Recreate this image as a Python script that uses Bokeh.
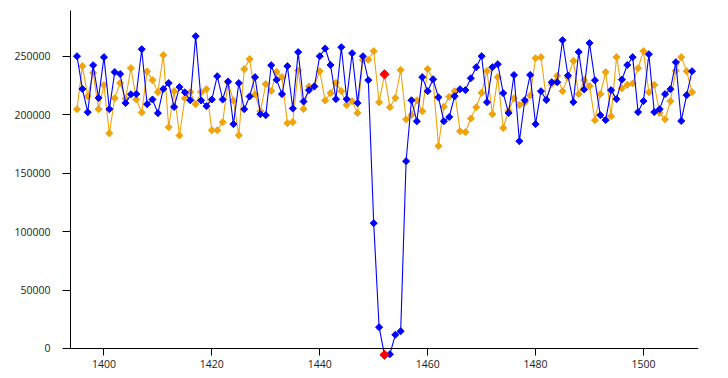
import math
from bokeh.plotting import figure
from bokeh.models import Range1d, FixedTicker, NumeralTickFormatter, Label, ColumnDataSource
from bokeh.embed import file_html
from bokeh.resources import INLINE

# ---- data ----
x_values = list(range(1395, 1510))
blue_values = [
    250000, 222000, 202100, 242300, 214300, 249200, 204700, 236400, 234800, 209900,
    217400, 217600, 256000, 209000, 213000, 201300, 222000, 227000, 206600, 223600,
    219100, 212300, 267100, 212200, 207300, 213000, 232900, 213000, 228400, 191900,
    227000, 204700, 215600, 232100, 200400, 199600, 242300, 229800, 217600, 241500,
    205300, 253500, 211300, 221000, 224100, 250000, 256600, 242500, 213300, 257700,
    213300, 252600, 209900, 250000, 229500, 107200, 18200, -5400, -4900, 11700,
    14800, 160200, 212300, 194400, 232100, 220100, 230300, 214800, 194400, 198000,
    215800, 221800, 221000, 231200, 240600, 250000, 210700, 240600, 243200, 218400,
    201400, 233900, 177300, 212300, 234000, 191900, 220100, 212500, 227800, 227800,
    263700, 233500, 210700, 253600, 221600, 261200, 229400, 199600, 195400, 221000,
    213300, 230000, 242500, 249200, 202200, 211600, 251700, 202200, 204700, 217600,
    221800, 244900, 194600, 216700, 237200,
]
orange_values = [
    204700, 241500, 215800, 235800, 204700, 225300, 184000, 214100, 227100, 213600,
    239800, 213000, 201900, 237000, 229500, 219300, 250900, 189300, 220100, 182200,
    214100, 219300, 209000, 219200, 221800, 186700, 186700, 193500, 227400, 212100,
    182400, 239000, 247500, 217300, 203000, 226200, 220300, 236500, 232100, 192700,
    193600, 237800, 204800, 224100, 224500, 237200, 212200, 218400, 227200, 220100,
    208200, 211500, 201500, 246800, 246900, 254300, 210700, 234500, 206400, 214300,
    238200, 196100, 199800, 212300, 203000, 239000, 230000, 173100, 206700, 215300,
    220100, 185900, 185000, 196700, 206400, 218700, 237300, 200400, 232100, 188600,
    203300, 214100, 208200, 210200, 216400, 248300, 249200, 213400, 226000, 233200,
    220100, 232000, 246000, 217600, 229600, 224400, 195300, 217600, 236400, 198700,
    249200, 222500, 225500, 226700, 239800, 254300, 219100, 225500, 201500, 196100,
    211600, 237500, 249200, 237200, 219300,
]
highlight_x = 1452
x_ticks = [1400, 1420, 1440, 1460, 1480, 1500]
y_ticks = [0, 50000, 100000, 150000, 200000, 250000]
y_top_tick = 300000

# ---- style ----
BLUE = "#0000FF"
ORANGE = "#F0A30A"
RED = "#FF0000"
FONT = "Open Sans"
FONT_SIZE = "10.5px"
TEXT_COLOR = "#222222"

x_start, x_end = 1393.8, 1510.2
y_start, y_end = -25670, 289100

p = figure(width=728, height=378, output_backend="svg", toolbar_location=None,
           x_range=Range1d(x_start, x_end), y_range=Range1d(y_start, y_end),
           min_border_left=70, min_border_right=30, min_border_top=10, min_border_bottom=0)
p.outline_line_color = None
p.grid.visible = False
p.background_fill_color = "white"
p.border_fill_color = "white"

src_o = ColumnDataSource(dict(x=x_values, y=orange_values))
src_b = ColumnDataSource(dict(x=x_values, y=blue_values))
hi = x_values.index(highlight_x)
src_r = ColumnDataSource(dict(x=[highlight_x, highlight_x], y=[orange_values[hi], blue_values[hi]]))

p.line("x", "y", source=src_o, line_color=ORANGE, line_width=1.1)
p.scatter("x", "y", source=src_o, marker="square", angle=math.pi / 4, size=5,
          fill_color=ORANGE, line_color=ORANGE, line_width=1)
p.line("x", "y", source=src_b, line_color=BLUE, line_width=1.1)
p.scatter("x", "y", source=src_b, marker="square", angle=math.pi / 4, size=5,
          fill_color=BLUE, line_color=BLUE, line_width=1)
p.scatter("x", "y", source=src_r, marker="square", angle=math.pi / 4, size=6.5,
          fill_color=RED, line_color=RED, line_width=1)

# axes
xa = p.xaxis[0]
xa.fixed_location = 0
xa.ticker = FixedTicker(ticks=x_ticks)
xa.minor_tick_line_color = None
xa.major_tick_in = 0
xa.major_tick_out = 7
xa.major_label_standoff = 5
xa.axis_line_color = "black"
xa.major_tick_line_color = "black"

ya = p.yaxis[0]
ya.ticker = FixedTicker(ticks=y_ticks)
ya.formatter = NumeralTickFormatter(format="0")
ya.bounds = (0, y_end)
ya.minor_tick_line_color = None
ya.major_tick_in = 0
ya.major_tick_out = 8
ya.major_label_standoff = 12
ya.axis_line_color = "black"
ya.major_tick_line_color = "black"

for ax in (xa, ya):
    ax.major_label_text_font = FONT
    ax.major_label_text_font_size = FONT_SIZE
    ax.major_label_text_color = TEXT_COLOR

# partially visible top tick label (cut by the canvas edge, as in the reference)
p.add_layout(Label(x=x_start, y=y_top_tick, x_offset=-38, text=str(y_top_tick),
                   text_align="center", text_baseline="middle",
                   text_font=FONT, text_font_size=FONT_SIZE, text_color=TEXT_COLOR))

open("out.html", "w").write(file_html(p, INLINE))
